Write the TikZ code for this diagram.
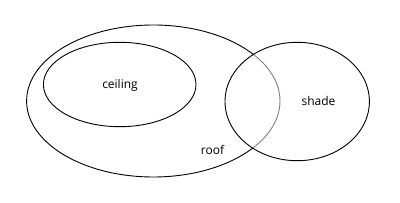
\documentclass[tikz,border=0pt]{standalone}
\usepackage{fontspec}
\setmainfont{Open Sans}
\begin{document}
\begin{tikzpicture}[x=1pt,y=-1pt,
  set/.style={draw=black,line width=0.9pt},
  lbl/.style={font=\fontsize{12}{14}\selectfont,inner sep=0pt}]
\useasboundingbox (0,0) rectangle (400,203);
\draw[set] (153.3,101) ellipse [x radius=126.7, y radius=76];
\draw[set] (119.7,84.5) ellipse [x radius=76.3, y radius=42.2];
\draw[set,fill=white,fill opacity=0.5] (297.2,101.5) ellipse [x radius=72.2, y radius=59.2];
\node[lbl] (ceiling) at (120,85) {ceiling};
\node[lbl] (shade) at (318.5,101.5) {shade};
\node[lbl] (roof) at (212.5,150) {roof};
\end{tikzpicture}
\end{document}
